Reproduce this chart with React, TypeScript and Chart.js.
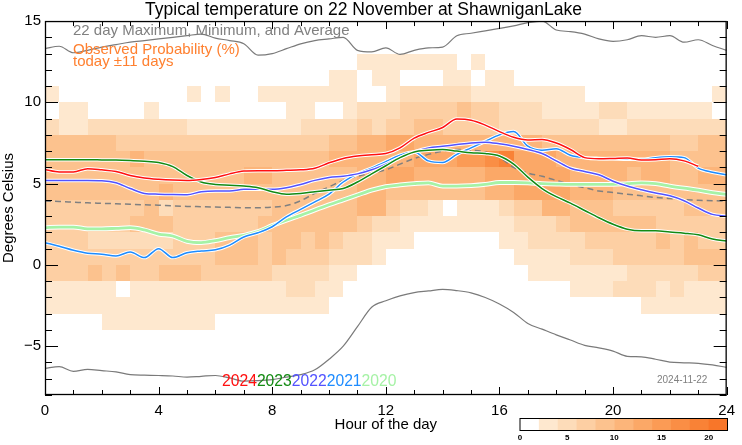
import React, { useEffect, useRef } from "react";
import { Chart, registerables } from "chart.js";
Chart.register(...registerables);

const FONT = "'Liberation Sans', Arial, Helvetica, sans-serif";

const titleText = "Typical temperature on 22 November at ShawniganLake";
const subtitleText = "22 day Maximum, Minimum, and Average";
const probText1 = "Observed Probability (%)";
const probText2 = "today \u00b111 days";
const dateText = "2024-11-22";

const xTickValues = [0, 4, 8, 12, 16, 20, 24];
const yTickValues = [-5, 0, 5, 10, 15];
const xMin = 0, xMax = 24, yMin = -8, yMax = 15;

const hours = [0, 0.5, 1, 1.5, 2, 2.5, 3, 3.5, 4, 4.5, 5, 5.5, 6, 6.5, 7, 7.5, 8, 8.5, 9, 9.5, 10, 10.5, 11, 11.5, 12, 12.5, 13, 13.5, 14, 14.5, 15, 15.5, 16, 16.5, 17, 17.5, 18, 18.5, 19, 19.5, 20, 20.5, 21, 21.5, 22, 22.5, 23, 23.5, 24];

const maxT = [13.3, 13.45, 13.05, 13.2, 13.4, 13.55, 13.7, 13.8, 13.9, 14.0, 14.1, 14.2, 13.95, 13.8, 13.6, 12.9, 13.0, 13.3, 13.6, 13.8, 13.9, 14.0, 13.2, 13.1, 13.35, 12.95, 13.2, 13.35, 13.4, 14.1, 14.25, 14.4, 14.55, 14.7, 14.9, 15.0, 14.45, 14.35, 14.2, 13.9, 13.75, 13.85, 14.1, 14.0, 14.1, 13.7, 13.85, 13.5, 13.2];
const minT = [-6.36, -6.26, -6.55, -6.42, -6.5, -6.58, -6.75, -6.78, -6.8, -6.83, -6.9, -6.85, -6.8, -6.95, -7.15, -7.12, -7.05, -6.9, -6.75, -6.45, -5.8, -5.0, -3.8, -2.6, -2.2, -1.9, -1.7, -1.6, -1.5, -1.58, -1.72, -2.0, -2.4, -2.92, -3.6, -3.95, -4.3, -4.62, -4.95, -5.1, -5.3, -5.62, -5.65, -5.8, -5.98, -6.02, -6.05, -6.15, -6.3];
const avgT = [3.93, 3.9, 3.86, 3.82, 3.79, 3.76, 3.73, 3.7, 3.67, 3.63, 3.6, 3.58, 3.56, 3.54, 3.52, 3.52, 3.55, 3.65, 3.95, 4.4, 4.8, 5.2, 5.45, 5.65, 5.85, 6.2, 6.55, 6.8, 7.0, 7.1, 7.05, 6.95, 6.6, 6.0, 5.65, 5.45, 5.2, 4.95, 4.75, 4.55, 4.45, 4.35, 4.25, 4.15, 4.08, 4.02, 3.98, 3.95, 3.93];

const t2024 = [5.87, 5.72, 5.72, 5.92, 5.85, 5.75, 5.5, 5.35, 5.27, 5.22, 5.2, 5.26, 5.38, 5.6, 5.77, 5.8, 5.8, 5.82, 5.85, 5.95, 6.28, 6.55, 6.7, 6.78, 6.85, 7.2, 7.8, 8.15, 8.45, 8.97, 8.9, 8.6, 8.2, 7.85, 7.68, 7.72, 7.5, 7.1, 6.6, 6.53, 6.55, 6.58, 6.45, 6.47, 6.53, 6.4, 6.07];
const t2023 = [6.47, 6.47, 6.47, 6.47, 6.46, 6.45, 6.42, 6.38, 6.3, 6.05, 5.5, 5.1, 4.95, 4.9, 4.85, 4.75, 4.5, 4.35, 4.4, 4.5, 4.6, 4.7, 5.1, 5.6, 6.1, 6.6, 6.95, 7.05, 7.1, 7.0, 6.9, 6.85, 6.7, 6.2, 5.4, 4.7, 4.2, 3.8, 3.35, 2.9, 2.5, 2.2, 2.1, 2.1, 2.02, 1.95, 1.85, 1.6, 1.47];
const t2022 = [5.2, 5.2, 5.2, 5.2, 5.18, 5.05, 4.7, 4.4, 4.35, 4.33, 4.32, 4.5, 4.55, 4.55, 4.65, 4.65, 4.65, 4.75, 4.95, 5.2, 5.38, 5.46, 5.6, 5.85, 6.2, 6.6, 6.95, 7.2, 7.3, 7.4, 7.5, 7.55, 7.45, 7.3, 7.1, 6.85, 6.4, 5.95, 5.75, 5.55, 5.15, 4.85, 4.62, 4.42, 4.25, 3.95, 3.5, 3.11, 3.0];
const t2021 = [1.37, 1.15, 0.9, 0.72, 0.66, 0.55, 0.8, 0.45, 1.0, 0.45, 0.75, 0.86, 0.93, 1.22, 1.72, 1.98, 2.35, 2.95, 3.42, 3.88, 4.35, 5.1, 5.6, 5.95, 6.35, 6.75, 6.95, 6.4, 6.3, 6.8, 7.2, 7.6, 8.0, 8.2, 7.3, 7.05, 7.15, 6.75, 6.6, 6.55, 6.53, 6.5, 6.5, 6.6, 6.65, 6.6, 5.95, 5.7, 5.55];
const t2020 = [2.29, 2.33, 2.33, 2.22, 2.22, 2.25, 2.29, 2.15, 1.9, 1.78, 1.45, 1.37, 1.5, 1.68, 1.82, 2.05, 2.42, 2.75, 3.05, 3.38, 3.7, 4.0, 4.3, 4.6, 4.82, 4.92, 5.0, 5.05, 4.85, 4.85, 4.88, 4.95, 5.07, 5.07, 5.05, 5.0, 4.97, 4.95, 4.95, 4.95, 4.95, 5.0, 5.05, 5.0, 4.85, 4.72, 4.6, 4.45, 4.34];

const years = ["2024", "2023", "2022", "2021", "2020"];
const yearColors = ["#ff1010", "#138a13", "#5252ff", "#1e8cff", "#a6f2a6"];
const yearSeries = [t2024, t2023, t2022, t2021, t2020];

// Observed probability heat map: bins of 1 degree (top row = 12..13 C), columns of half an hour.
// Each row is run-length encoded as [level, number of columns]; level k means 2k..2k+2 %.
const heatTopBin = 12;
const heatHourStep = 0.5;
const heatRows: number[][][] = [
  [[0, 22], [1, 7], [0, 1], [1, 1], [0, 17]],
  [[0, 20], [1, 2], [0, 1], [1, 2], [0, 3], [1, 2], [0, 1], [1, 2], [0, 15]],
  [[1, 1], [0, 9], [1, 1], [0, 1], [1, 1], [0, 2], [1, 7], [0, 2], [1, 1], [2, 5], [1, 8], [0, 9], [1, 1]],
  [[0, 1], [1, 2], [0, 4], [1, 1], [0, 9], [1, 2], [0, 2], [1, 1], [2, 3], [3, 4], [4, 1], [3, 2], [2, 3], [1, 4], [2, 2], [1, 6], [0, 1]],
  [[2, 1], [1, 2], [2, 7], [1, 8], [2, 4], [3, 1], [2, 1], [3, 2], [4, 2], [3, 4], [2, 7], [1, 2], [2, 7]],
  [[4, 5], [3, 15], [4, 2], [5, 2], [6, 2], [5, 9], [4, 9], [3, 2], [4, 2]],
  [[4, 6], [5, 1], [4, 13], [5, 6], [6, 3], [7, 2], [8, 1], [9, 1], [6, 3], [5, 8], [4, 4]],
  [[4, 14], [5, 2], [4, 6], [5, 2], [6, 2], [5, 5], [6, 6], [5, 4], [4, 1], [5, 2], [4, 2], [5, 2]],
  [[4, 8], [5, 1], [4, 13], [5, 2], [4, 7], [5, 2], [6, 4], [5, 3], [4, 8]],
  [[3, 7], [4, 1], [2, 1], [3, 7], [4, 6], [5, 2], [3, 1], [2, 2], [1, 1], [0, 1], [1, 3], [2, 1], [3, 2], [5, 2], [4, 3], [3, 5], [4, 3]],
  [[3, 6], [4, 3], [3, 6], [4, 7], [3, 1], [2, 2], [1, 8], [2, 3], [3, 1], [4, 6], [3, 5]],
  [[3, 3], [2, 6], [3, 3], [4, 3], [3, 1], [4, 2], [3, 1], [4, 1], [3, 1], [2, 2], [1, 3], [0, 6], [1, 2], [2, 4], [3, 5], [4, 1], [3, 1], [4, 1], [3, 2]],
  [[3, 12], [4, 3], [3, 1], [4, 1], [3, 3], [2, 3], [1, 1], [0, 9], [1, 4], [2, 3], [3, 5], [4, 3]],
  [[3, 3], [4, 1], [3, 1], [4, 1], [3, 2], [4, 3], [3, 5], [2, 4], [1, 2], [0, 12], [1, 7], [2, 5], [3, 2]],
  [[1, 5], [0, 1], [1, 11], [2, 2], [1, 2], [0, 16], [1, 3], [2, 3], [1, 1], [2, 1], [1, 3]],
  [[1, 20], [0, 22], [1, 6]],
  [[0, 4], [1, 8], [0, 36]],
];

const probLevels = [0, 2, 4, 6, 8, 10, 12, 14, 16, 18, 20, 22];
const probTicks = [0, 5, 10, 15, 20];
const palette = ["#ffffff", "#fee8cf", "#fddcb9", "#fdcfa3", "#fcc28e", "#fcb57a", "#fba867", "#fb9b55", "#fa8e45", "#f98236", "#f87629"];

function toPoints(vals: number[]) {
  return vals.map((v, i) => ({ x: hours[i], y: v }));
}

const heatPlugin = {
  id: "heatmap",
  beforeDatasetsDraw(chart: any) {
    const { ctx, chartArea: a, scales } = chart;
    const x = scales.x, y = scales.y;
    ctx.save();
    ctx.beginPath();
    ctx.rect(a.left, a.top, a.right - a.left, a.bottom - a.top);
    ctx.clip();
    heatRows.forEach((row, r) => {
      const lo = heatTopBin - r;
      const yt = Math.round(y.getPixelForValue(lo + 1));
      const yb = Math.round(y.getPixelForValue(lo));
      let c = 0;
      row.forEach(([lvl, n]) => {
        if (lvl > 0) {
          const x0 = Math.round(x.getPixelForValue(c * heatHourStep));
          const x1 = Math.round(x.getPixelForValue((c + n) * heatHourStep));
          ctx.fillStyle = palette[lvl];
          ctx.fillRect(x0, yt, x1 - x0, yb - yt);
        }
        c += n;
      });
    });
    ctx.restore();
  },
};

const framePlugin = {
  id: "frame",
  afterDatasetsDraw(chart: any) {
    const { ctx, chartArea: a, scales } = chart;
    const x = scales.x, y = scales.y;
    ctx.save();
    ctx.strokeStyle = "#000";
    ctx.lineWidth = 1;
    ctx.beginPath();
    for (let h = xMin; h <= xMax; h += 1) {
      const px = Math.round(x.getPixelForValue(h)) + 0.5;
      const len = h % 4 === 0 ? 8 : 5;
      ctx.moveTo(px, a.bottom); ctx.lineTo(px, a.bottom - len);
      ctx.moveTo(px, a.top); ctx.lineTo(px, a.top + len);
    }
    for (let t = yMin; t <= yMax; t += 1) {
      const py = Math.round(y.getPixelForValue(t)) + 0.5;
      const len = t % 5 === 0 ? 13 : 7;
      ctx.moveTo(a.left, py); ctx.lineTo(a.left + len, py);
      ctx.moveTo(a.right, py); ctx.lineTo(a.right - len, py);
    }
    ctx.stroke();
    ctx.lineWidth = 1.3;
    ctx.strokeRect(a.left + 0.5, a.top + 0.5, a.right - a.left - 1, a.bottom - a.top - 1);
    ctx.restore();
  },
};

const textPlugin = {
  id: "texts",
  afterDraw(chart: any) {
    const { ctx, chartArea: a } = chart;
    ctx.save();
    ctx.textAlign = "left";
    ctx.textBaseline = "alphabetic";
    ctx.font = `15px ${FONT}`;
    ctx.fillStyle = "#808080";
    ctx.fillText(subtitleText, a.left + 28, 34.5);
    ctx.fillStyle = "#ff8030";
    ctx.fillText(probText1, a.left + 28, 53.5);
    ctx.fillText(probText2, a.left + 28, 66);

    ctx.font = `15.7px ${FONT}`;
    let lx = 222;
    years.forEach((yr, i) => {
      ctx.fillStyle = yearColors[i];
      ctx.fillText(yr, lx, 386);
      lx += ctx.measureText(yr).width;
    });

    ctx.font = `10px ${FONT}`;
    ctx.fillStyle = "#808080";
    ctx.fillText(dateText, 657, 383);

    // colour bar
    const cbL = 520, cbR = 727.5, cbT = 418.5, cbB = 430.5;
    const vmax = probLevels[probLevels.length - 1];
    const px = (v: number) => cbL + (v / vmax) * (cbR - cbL);
    for (let i = 0; i < probLevels.length - 1; i++) {
      ctx.fillStyle = palette[i];
      const x0 = px(probLevels[i]), x1 = px(probLevels[i + 1]);
      ctx.fillRect(x0, cbT, x1 - x0 + 0.5, cbB - cbT);
    }
    ctx.strokeStyle = "#000";
    ctx.lineWidth = 1;
    ctx.strokeRect(cbL, cbT, cbR - cbL, cbB - cbT);
    ctx.font = `bold 8px ${FONT}`;
    ctx.fillStyle = "#000";
    ctx.textAlign = "center";
    ctx.textBaseline = "middle";
    probTicks.forEach((v) => ctx.fillText(String(v), px(v), 437.5));
    ctx.restore();
  },
};

function lineDs(vals: number[], color: string, width: number, order: number, dash?: number[]) {
  return {
    type: "line",
    data: toPoints(vals),
    borderColor: color,
    backgroundColor: color,
    borderWidth: width,
    borderDash: dash || [],
    pointRadius: 0,
    fill: false,
    cubicInterpolationMode: "monotone",
    order,
  };
}

export default function App() {
  const ref = useRef<HTMLCanvasElement | null>(null);
  useEffect(() => {
    if (!ref.current) return;
    const datasets: any[] = [
      lineDs(maxT, "#7a7a7a", 1.2, 40),
      lineDs(minT, "#7a7a7a", 1.2, 40),
      lineDs(avgT, "#808080", 1.5, 40, [6, 4]),
    ];
    const widths = [1.5, 1.5, 1.5, 1.5, 2.8];
    for (let i = yearSeries.length - 1; i >= 0; i--) {
      datasets.push(lineDs(yearSeries[i], "#ffffff", widths[i] + 2, 20 + i * 2 + 1));
      datasets.push(lineDs(yearSeries[i], yearColors[i], widths[i], 20 + i * 2));
    }
    const tickFont = { family: FONT, size: 15 };
    const chart = new Chart(ref.current, {
      type: "line",
      data: { datasets },
      plugins: [heatPlugin, framePlugin, textPlugin],
      options: {
        animation: false,
        responsive: false,
        devicePixelRatio: 1,
        layout: { padding: { left: 0, right: 15, top: 0, bottom: 0 } },
        plugins: {
          legend: { display: false },
          tooltip: { enabled: false },
          title: {
            display: true,
            text: titleText,
            color: "#000",
            font: { family: FONT, size: 17.5, weight: "normal", lineHeight: 0.86 },
            padding: { top: 3, bottom: 3 },
          },
        },
        scales: {
          x: {
            type: "linear",
            min: xMin,
            max: xMax,
            afterBuildTicks: (s: any) => { s.ticks = xTickValues.map((v) => ({ value: v })); },
            afterFit: (s: any) => { s.height = 50; },
            grid: { display: false, drawTicks: false },
            border: { display: false },
            ticks: { font: tickFont, color: "#000", padding: 7, maxRotation: 0, autoSkip: false },
            title: { display: true, text: "Hour of the day", color: "#000", font: { family: FONT, size: 15 }, padding: { top: 0, bottom: 11 } },
          },
          y: {
            type: "linear",
            min: yMin,
            max: yMax,
            afterBuildTicks: (s: any) => { s.ticks = yTickValues.map((v) => ({ value: v })); },
            afterFit: (s: any) => { s.width = 45; },
            grid: { display: false, drawTicks: false },
            border: { display: false },
            ticks: {
              font: tickFont,
              color: "#000",
              padding: 4,
              autoSkip: false,
              callback: (v: any) => (Number(v) < 0 ? "\u2212" + Math.abs(Number(v)) : String(v)),
            },
            title: { display: true, text: "Degrees Celsius", color: "#000", font: { family: FONT, size: 15 }, padding: { top: 0, bottom: 0 } },
          },
        },
      } as any,
    } as any);
    return () => chart.destroy();
  }, []);
  return (
    <div style={{ position: "fixed", left: 0, top: 0, width: 742, height: 445, background: "#fff" }}>
      <canvas ref={ref} width={742} height={445} style={{ display: "block" }} />
    </div>
  );
}
